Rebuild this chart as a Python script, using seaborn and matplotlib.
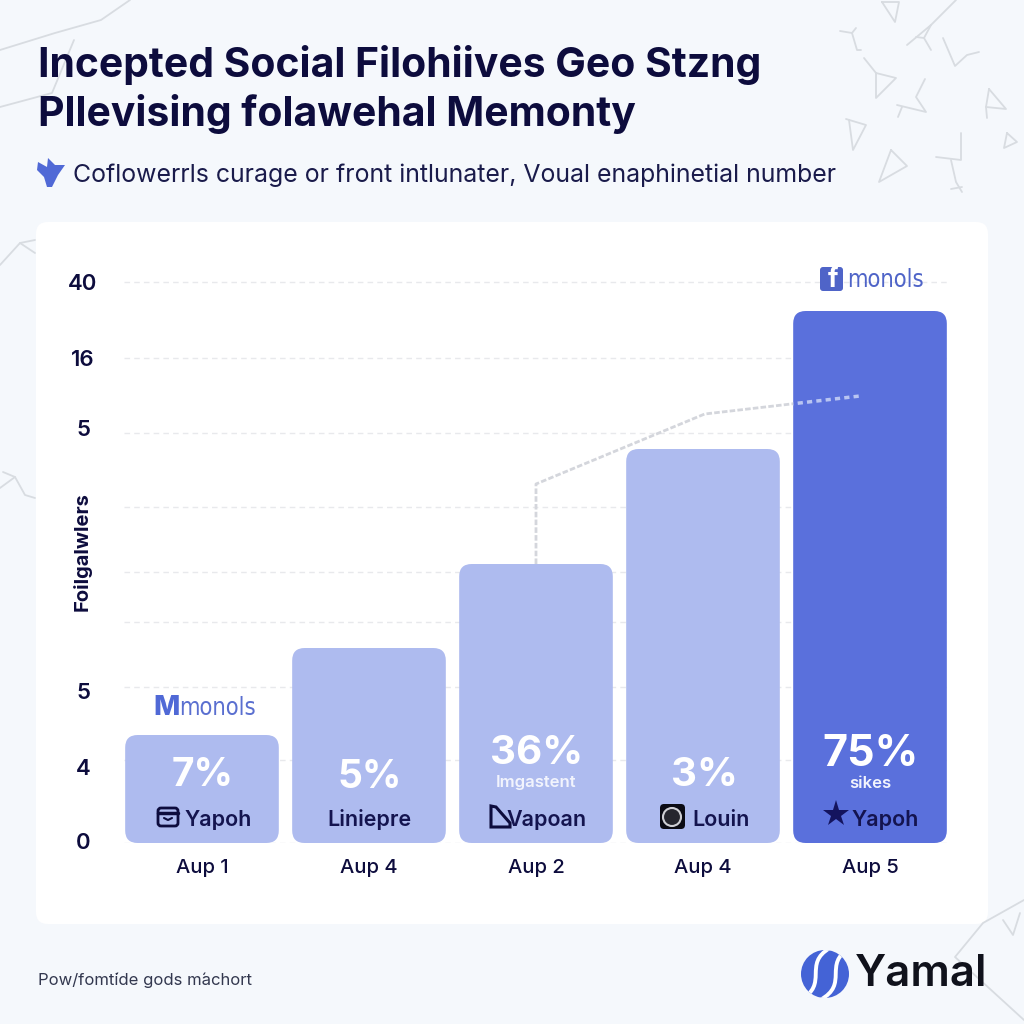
import numpy as np
import pandas as pd
import seaborn as sns
import matplotlib.pyplot as plt
from matplotlib.patches import FancyBboxPatch, Circle, Polygon, PathPatch
from matplotlib.path import Path

# chart data
x_labels = ['Aup 1', 'Aup 4', 'Aup 2', 'Aup 4', 'Aup 5']
followers = [108, 195, 279, 394, 532]
pct_labels = ['7%', '5%', '36%', '3%', '75%']
sub_labels = ['', '', 'Imgastent', '', 'sikes']
names = ['Yapoh', 'Liniepre', 'Vapoan', 'Louin', 'Yapoh']
bar_colors = ['#aebbef', '#aebbef', '#aebbef', '#aebbef', '#5a70dc']

y_tick_pos = [2, 76, 152, 415, 485, 561]
y_tick_labels = ['0', '4', '5', '5', '16', '40']
grid_levels = [0, 83, 156, 221, 271, 336, 410, 485, 561]

trend_x = [2, 2, 3.01, 3.94]
trend_y = [279, 359, 429, 447]

NAVY = '#0d0c3d'
BLUE = '#4f64c8'
DOODLE = '#d8dce1'

# thin scribbles around the edges of the page
doodles = [
    [(0, 50), (55, 33), (101, 20), (130, 0)], [(74, 40), (52, 93), (0, 107)],
    [(882, 2), (899, 2), (895, 22), (882, 2)],
    [(956, 0), (931, 25), (907, 45)], [(931, 25), (924, 38), (931, 50)], [(924, 38), (916, 37)],
    [(840, 31), (852, 33), (857, 50), (861, 50)], [(852, 33), (856, 28)],
    [(864, 58), (876, 73), (876, 98), (896, 78), (876, 73)],
    [(943, 38), (955, 66), (967, 55), (979, 52)],
    [(925, 79), (916, 97), (926, 112), (897, 105)], [(902, 107), (898, 117)],
    [(989, 89), (1006, 109), (986, 107), (989, 89)], [(986, 107), (987, 118)],
    [(846, 119), (866, 125), (853, 150), (849, 120)],
    [(891, 150), (907, 166), (879, 182), (891, 150)],
    [(961, 133), (961, 160), (936, 157)], [(951, 160), (956, 182), (962, 192)], [(951, 189), (962, 187)],
    [(1007, 133), (1017, 142), (1004, 148), (1007, 133)],
    [(0, 265), (20, 243), (35, 240)], [(20, 243), (35, 253)],
    [(3, 472), (15, 477), (25, 495), (35, 498)], [(15, 477), (0, 488)],
    [(1024, 900), (983, 923), (955, 957), (1024, 1020)],
    [(1003, 920), (1013, 935), (1020, 913)],
]

sns.set_theme(style='white')
plt.rcParams['font.family'] = ['Inter', 'DejaVu Sans']

fig = plt.figure(figsize=(10.24, 10.24), dpi=100, facecolor='#f5f8fc')

# full page axes in pixels, one below the chart and one on top of it
bg = fig.add_axes([0, 0, 1, 1], zorder=0)
fg = fig.add_axes([0, 0, 1, 1], zorder=5)
for a in (bg, fg):
    a.set_xlim(0, 1024)
    a.set_ylim(1024, 0)
    a.axis('off')
    a.patch.set_alpha(0)

for d in doodles:
    xs, ys = zip(*d)
    bg.plot(xs, ys, color=DOODLE, lw=1.3, solid_capstyle='round')

bg.add_patch(FancyBboxPatch((36, 222), 952, 702, boxstyle='round,pad=0,rounding_size=12',
                            fc='white', ec='none'))

# main chart
ax = fig.add_axes([124 / 1024, (1024 - 843) / 1024, 826 / 1024, 583 / 1024], zorder=2)
ax.patch.set_alpha(0)

df = pd.DataFrame({'pos': [str(i) for i in range(len(followers))], 'followers': followers})
sns.barplot(data=df, x='pos', y='followers', hue='pos', palette=bar_colors, width=0.92,
            saturation=1, dodge=False, legend=False, ax=ax, zorder=3)

ax.set_xlim(-0.467, 4.479)
ax.set_ylim(0, 583)

# swap square bars for rounded ones
aspect = 167.0
rounded = []
for bar in list(ax.patches):
    r = FancyBboxPatch((bar.get_x(), bar.get_y()), bar.get_width(), bar.get_height(),
                       boxstyle='round,pad=0,rounding_size=0.075', mutation_aspect=aspect,
                       fc=bar.get_facecolor(), ec='none', zorder=3)
    bar.remove()
    ax.add_patch(r)
    rounded.append(r)

ax.hlines(grid_levels, -0.467, 4.479, color='#e8e9ec', lw=1, linestyles=(0, (4, 3)), zorder=1)

# trend line, grey behind the bars and pale where it crosses the dark one
sns.lineplot(x=trend_x, y=trend_y, sort=False, estimator=None, color='#d4d6dc', lw=2,
             linestyle=(0, (2, 0.8)), ax=ax, zorder=2)
light = ax.plot(trend_x, trend_y, color='#b9c5f2', lw=2.5, linestyle=(0, (1.5, 1.2)), zorder=4)[0]
light.set_clip_path(rounded[4])

ax.set_xticks(range(len(x_labels)))
ax.set_xticklabels(x_labels, fontsize=14.5, fontweight='medium', color=NAVY)
ax.set_yticks(y_tick_pos)
ax.set_yticklabels(y_tick_labels, fontsize=16, fontweight='semibold', color=NAVY, ha='center')
ax.tick_params(axis='x', length=0, pad=11.5)
ax.tick_params(axis='y', length=0, pad=29.5)
ax.set_xlabel('')
ax.set_ylabel('')
sns.despine(ax=ax, left=True, bottom=True)

# titles
fg.text(38, 65, 'Incepted Social Filohiives Geo Stzng', fontsize=29.4, fontweight='bold', color=NAVY, va='center')
fg.text(38, 114, 'Pllevising folawehal Memonty', fontsize=29.4, fontweight='bold', color=NAVY, va='center')
fg.text(73, 175, "Coflowerrls curage or front intlunater, Voual enaphinetial number",
        fontsize=17.9, color='#1a1b4b', va='center')
fg.add_patch(Polygon([(38, 162), (47, 167), (48, 158), (55, 165), (65, 165), (58, 175),
                      (52, 187), (47, 187), (44, 177), (37, 170)], fc='#5069d6', ec='none'))

fg.text(82, 552, 'Foilgalwlers', rotation=90, fontsize=14.5, fontweight='bold', color=NAVY,
        ha='center', va='center')

# text on the bars
pct_y = [776, 777, 754, 775, 755]
pct_size = [28, 28, 29, 29, 31]
for i in range(5):
    cx = 202 + 167 * i
    fg.text(cx + 1, pct_y[i], pct_labels[i], fontsize=pct_size[i], fontweight='bold', color='white',
            ha='center', va='center')
    if sub_labels[i]:
        fg.text(cx, 783, sub_labels[i], fontsize=12, fontweight='semibold', color='#f2f4fd',
                ha='center', va='center')

name_x = [218, 369, 547, 721, 885]
for i in range(5):
    fg.text(name_x[i], 820, names[i], fontsize=15.5, fontweight='semibold', color='#14144f',
            ha='center', va='center')

# small icons next to the names
fg.add_patch(FancyBboxPatch((158, 808), 20, 18, boxstyle='round,pad=0,rounding_size=3',
                            fc='none', ec=NAVY, lw=2))
fg.plot([158, 178], [813, 813], color=NAVY, lw=2.5)
fg.plot([164, 168, 172], [818, 820, 818], color=NAVY, lw=1.5)
fg.add_patch(Polygon([(491, 806), (496, 807), (510, 823), (510, 827), (491, 827)],
                     fc='none', ec=NAVY, lw=2.2))
fg.add_patch(FancyBboxPatch((660, 804), 25, 25, boxstyle='round,pad=0,rounding_size=4', fc='#0b0b14', ec='none'))
fg.add_patch(Circle((672, 817), 9, fc='#26262e', ec='#cfcfd4', lw=1.5))
fg.plot([836], [814], marker='*', ms=20, color='#14145e', mew=0)

# brand labels above first and last bar
fg.text(153, 708, 'M', fontsize=20, fontweight='heavy', color='#5069d6', va='center')
fg.text(179, 708, 'monols', fontsize=17, fontweight='medium', color='#5a6fd0', va='center',
        family='DejaVu Sans', stretch='condensed')
fg.add_patch(FancyBboxPatch((820, 267), 23, 24, boxstyle='round,pad=0,rounding_size=3', fc=BLUE, ec='none'))
fg.text(833, 280, 'f', fontsize=19, fontweight='bold', color='white', ha='center', va='center')
fg.text(847, 280, 'monols', fontsize=17, fontweight='medium', color=BLUE, va='center',
        family='DejaVu Sans', stretch='condensed')

# footer
fg.text(38, 980, 'Pow/fomt\u0301ide gods m\u0301achort', fontsize=12, color='#33384f', va='center')

# logo
logo = Circle((825, 974), 24, fc='#4463d6', ec='none')
fg.add_patch(logo)
for off in (-10, 10):
    verts = [(840 + off, 948), (812 + off, 964), (840 + off, 984), (810 + off, 1000)]
    stripe = PathPatch(Path(verts, [Path.MOVETO, Path.CURVE4, Path.CURVE4, Path.CURVE4]),
                       fc='none', ec='white', lw=2.8)
    fg.add_patch(stripe)
    stripe.set_clip_path(logo)
fg.text(855, 975, 'Yamal', fontsize=31.5, fontweight='semibold', color='#10121c', va='center')

fig.savefig('out.png', dpi=100, facecolor=fig.get_facecolor())
